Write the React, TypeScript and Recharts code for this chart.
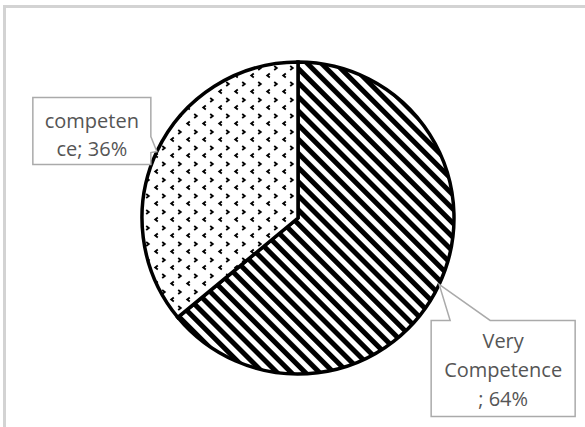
import React from "react";
import { PieChart, Pie, Cell } from "recharts";

const categories = ["Very Competence", "competence"];
const values = [64, 36];
const labelLines = [["Very", "Competence", "; 64%"], ["competen", "ce; 36%"]];
const fills = ["url(#stripes)", "url(#dots)"];

const data = categories.map((name, i) => ({ name, value: values[i] }));

const RAD = Math.PI / 180;

const renderLabel = (props: any) => {
  const { cx, cy, midAngle, outerRadius, index } = props;
  const tx = cx + outerRadius * Math.cos(midAngle * RAD);
  const ty = cy - outerRadius * Math.sin(midAngle * RAD);
  const lines = labelLines[index];
  const textStyle = { fontFamily: "'Open Sans', sans-serif", fontSize: 20, fill: "#555555" };
  if (index === 0) {
    const l = tx - 8, t = ty + 36, r = tx + 136, b = ty + 132;
    const d = `M${l},${t} L${tx + 11},${t} L${tx},${ty} L${tx + 51},${t} L${r},${t} L${r},${b} L${l},${b} Z`;
    const mx = (l + r) / 2;
    return (
      <g>
        <path d={d} fill="#fff" stroke="#aaaaaa" strokeWidth={1.5} />
        {lines.map((s, k) => (
          <text key={k} x={mx} y={t + 20 + k * 29} textAnchor="middle" dominantBaseline="central" style={textStyle}>
            {s}
          </text>
        ))}
      </g>
    );
  }
  const l = tx - 124, t = ty - 54, r = tx - 6, b = ty + 13;
  const d = `M${l},${t} L${r},${t} L${r},${ty - 15} L${tx},${ty} L${r},${ty + 1} L${r},${b} L${l},${b} Z`;
  const mx = (l + r) / 2;
  return (
    <g>
      <path d={d} fill="#fff" stroke="#aaaaaa" strokeWidth={1.5} />
      {lines.map((s, k) => (
        <text key={k} x={mx} y={t + 23 + k * 28} textAnchor="middle" dominantBaseline="central" style={textStyle}>
          {s}
        </text>
      ))}
    </g>
  );
};

export default function App() {
  return (
    <div style={{ position: "absolute", left: 0, top: 0, width: 585, height: 427, overflow: "hidden", background: "#fff" }}>
      <svg width={0} height={0} style={{ position: "absolute" }}>
        <defs>
          <pattern id="stripes" patternUnits="userSpaceOnUse" width={10} height={10} patternTransform="rotate(-45)">
            <rect x={0} y={0} width={10} height={10} fill="#fff" />
            <rect x={0} y={0} width={5} height={10} fill="#000" />
          </pattern>
          <pattern id="dots" patternUnits="userSpaceOnUse" width={16} height={16}>
            <rect x={0} y={0} width={16} height={16} fill="#fff" />
            <path d="M2.2,2 L4.8,4 L2.2,6" stroke="#000" strokeWidth={1.8} fill="none" />
            <path d="M13.8,9.5 L11.2,11.5 L13.8,13.5" stroke="#000" strokeWidth={1.8} fill="none" />
          </pattern>
        </defs>
      </svg>
      <div
        style={{
          position: "absolute",
          left: 3,
          top: 5,
          width: 640,
          height: 480,
          border: "3px solid #d3d3d3",
        }}
      />
      <div style={{ position: "absolute", left: 0, top: 0 }}>
        <PieChart width={585} height={427} margin={{ top: 0, right: 0, bottom: 0, left: 0 }}>
          <Pie
            data={data}
            dataKey="value"
            nameKey="name"
            cx={298}
            cy={218}
            outerRadius={156}
            startAngle={90}
            endAngle={-270}
            stroke="#000"
            strokeWidth={3.5}
            label={renderLabel}
            labelLine={false}
            isAnimationActive={false}
          >
            {data.map((d, i) => (
              <Cell key={d.name} fill={fills[i]} stroke="#000" strokeWidth={3.5} />
            ))}
          </Pie>
        </PieChart>
      </div>
    </div>
  );
}
